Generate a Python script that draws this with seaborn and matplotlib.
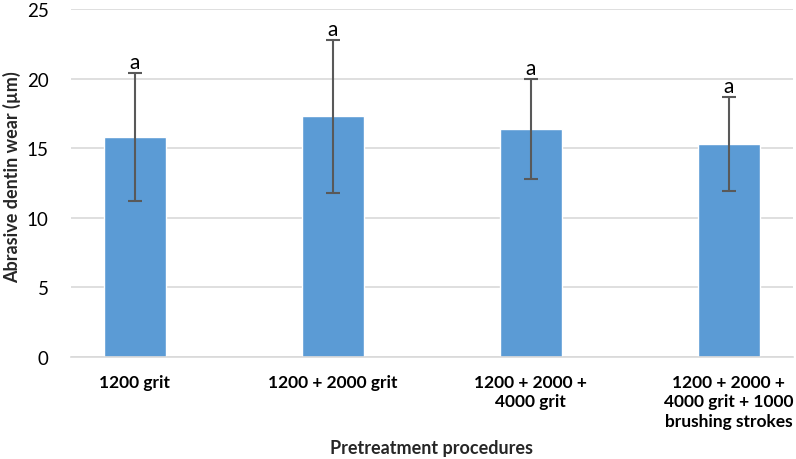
import numpy as np
import pandas as pd
import matplotlib
matplotlib.use("Agg")
import matplotlib.pyplot as plt
import seaborn as sns

# data
procedures = [
    "1200 grit",
    "1200 + 2000 grit",
    "1200 + 2000 +\n4000 grit",
    "1200 + 2000 +\n4000 grit + 1000\nbrushing strokes",
]
wear_mean = [15.8, 17.3, 16.4, 15.3]
wear_sd = [4.6, 5.5, 3.6, 3.4]
letters = ["a", "a", "a", "a"]

df = pd.DataFrame({"procedure": procedures, "wear": wear_mean})

sns.set_theme(style="white")
plt.rcParams["font.family"] = ["Lato", "DejaVu Sans"]

fig = plt.figure(figsize=(7.96, 4.6), dpi=100)
ax = fig.add_axes([0.089, 0.222, 0.907, 0.756])

sns.barplot(
    data=df,
    x="procedure",
    y="wear",
    color="#5b9bd5",
    saturation=1,
    width=0.315,
    errorbar=None,
    ax=ax,
    zorder=2,
)

xpos = np.arange(len(procedures))
ax.errorbar(
    xpos,
    wear_mean,
    yerr=wear_sd,
    fmt="none",
    ecolor="#595959",
    elinewidth=1.5,
    capsize=5,
    capthick=1.5,
    zorder=3,
)

for x, m, s, lab in zip(xpos, wear_mean, wear_sd, letters):
    ax.text(x, m + s + 0.05, lab, ha="center", va="bottom", fontsize=15, color="black")

ax.set_ylim(0, 25)
ax.set_yticks([0, 5, 10, 15, 20, 25])
ax.yaxis.grid(True, color="#d9d9d9", linewidth=1.2, zorder=0)
ax.set_axisbelow(True)

for side in ["top", "right", "left"]:
    ax.spines[side].set_visible(False)
ax.spines["bottom"].set_color("#d9d9d9")
ax.spines["bottom"].set_linewidth(1.2)

ax.tick_params(axis="both", length=0, colors="black")
ax.tick_params(axis="y", pad=16, labelsize=13.5)
ax.tick_params(axis="x", pad=12, labelsize=12.5)
for t in ax.get_xticklabels():
    t.set_fontweight("bold")
    t.set_linespacing(1.3)

ax.set_xlabel("Pretreatment procedures", fontsize=13, fontweight="bold")
ax.set_ylabel("Abrasive dentin wear (µm)", fontsize=13, fontweight="bold")
ax.xaxis.set_label_coords(0.5, -0.262)
ax.yaxis.set_label_coords(-0.082, 0.52)
ax.xaxis.label.set_va("center")
ax.yaxis.label.set_va("center")

fig.savefig("out.png", dpi=100)
